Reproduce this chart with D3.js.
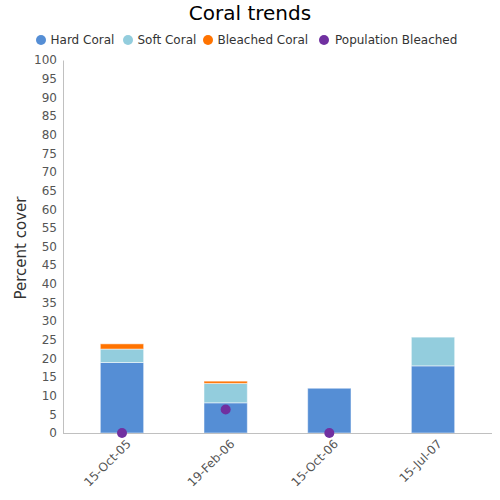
<!DOCTYPE html>
<html><head><meta charset="utf-8">
<script src="https://cdn.jsdelivr.net/npm/d3@7"></script>
<style>body{margin:0;background:#fff;font-family:"DejaVu Sans",sans-serif;}</style>
</head><body><svg id="c" width="500" height="500"></svg>
<script>
const categories = ["15-Oct-05","19-Feb-06","15-Oct-06","15-Jul-07"];
const hardCoral = [18.9, 8.1, 12.0, 18.0];
const softCoral = [3.6, 5.2, 0, 7.7];
const bleachedCoral = [1.4, 0.6, 0, 0];
const populationBleached = [0, 6.3, 0, null];
const yTicks = d3.range(0, 101, 5);
const seriesNames = ["Hard Coral","Soft Coral","Bleached Coral","Population Bleached"];
const colors = ["#558ed5","#93cddd","#ff7300","#7030a0"];

const svg = d3.select("#c");
const x = d3.scaleBand().domain(categories).range([63, 492]).paddingInner(0.582).paddingOuter(0.36);
const y = d3.scaleLinear().domain([0, 100]).range([433, 60]);

svg.append("text").attr("x", 250).attr("y", 20).attr("text-anchor","middle")
  .attr("font-size", 20).attr("fill","#000").text("Coral trends");

// legend
const legX = [41, 128, 208, 324];
seriesNames.forEach((n,i)=>{
  svg.append("circle").attr("cx", legX[i]).attr("cy", 40).attr("r", 5).attr("fill", colors[i]);
  svg.append("text").attr("x", legX[i] + (i===3 ? 11 : 9.5)).attr("y", 44.3).attr("font-size", 12)
    .attr("fill","#333").text(n);
});

// y axis
const ya = svg.append("g").attr("transform","translate(63,0)")
  .call(d3.axisLeft(y).tickValues(yTicks).tickSize(0).tickPadding(6));
ya.select(".domain").attr("stroke","#c0c0c0");
ya.selectAll("text").attr("font-size", 12).attr("fill","#555").attr("font-family","DejaVu Sans");

svg.append("text").attr("transform","translate(26,248) rotate(-90)").attr("text-anchor","middle")
  .attr("font-size", 15).attr("fill","#333").text("Percent cover");

// stacked bars
const rows = categories.map((c,i)=>({cat:c, hard:hardCoral[i], soft:softCoral[i], bleached:bleachedCoral[i]}));
const stack = d3.stack().keys(["hard","soft","bleached"])(rows);
stack.forEach((layer, li)=>{
  svg.append("g").selectAll("rect").data(layer.filter(d=>d[1]-d[0]>0)).join("rect")
    .attr("x", d=>x(d.data.cat)).attr("width", x.bandwidth())
    .attr("y", d=>y(d[1])).attr("height", d=>y(d[0])-y(d[1]))
    .attr("fill", colors[li]).attr("stroke","rgba(255,255,255,0.5)").attr("stroke-width",1);
});

// x axis
const xa = svg.append("g").attr("transform","translate(0,433)")
  .call(d3.axisBottom(x).tickSize(0).tickPadding(8));
xa.select(".domain").attr("stroke","#c0c0c0").attr("d","M63,0.5H492");
xa.selectAll("text").attr("font-size", 12).attr("fill","#555").attr("font-family","DejaVu Sans")
  .attr("text-anchor","end").attr("dy","0.35em")
  .attr("transform","translate(1,3) rotate(-45)");

// population bleached dots
svg.append("g").selectAll("circle")
  .data(categories.map((c,i)=>({cat:c, v:populationBleached[i]})).filter(d=>d.v!==null))
  .join("circle").attr("cx", d=>x(d.cat)+x.bandwidth()/2).attr("cy", d=>y(d.v))
  .attr("r", 5).attr("fill", colors[3]);
</script></body></html>
